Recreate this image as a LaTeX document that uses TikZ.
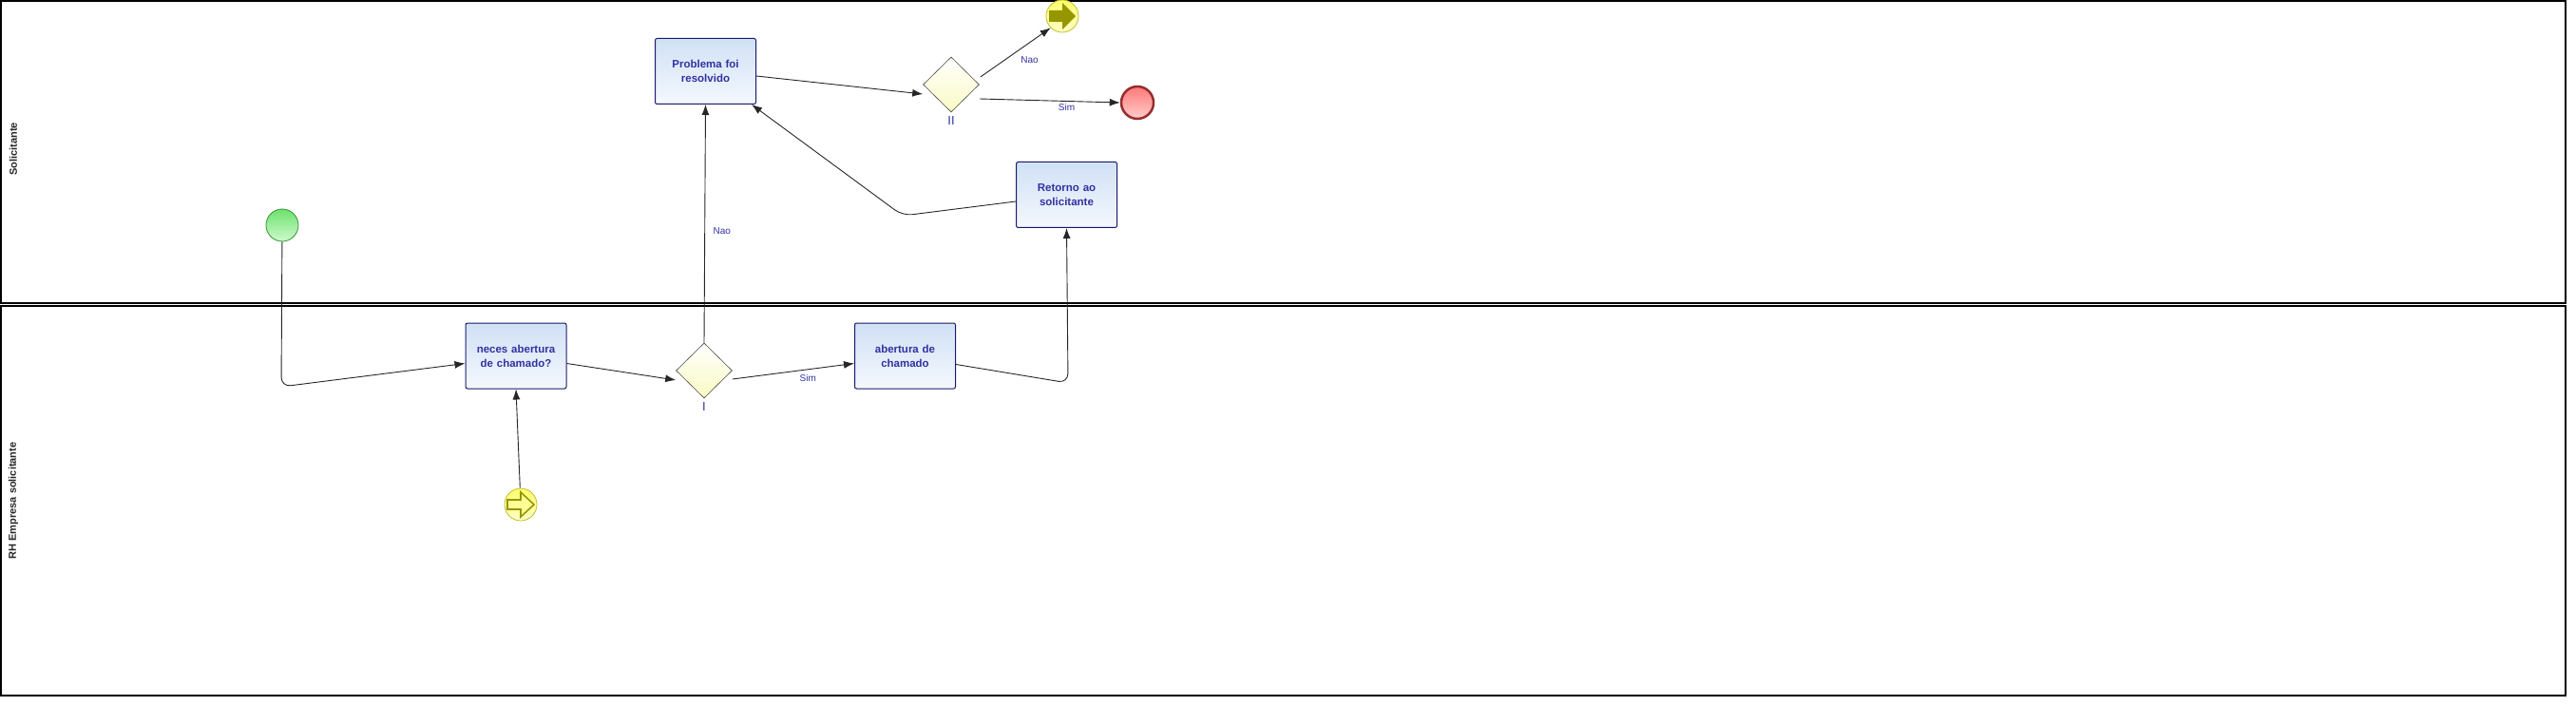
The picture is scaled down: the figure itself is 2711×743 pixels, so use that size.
\documentclass[tikz,border=0pt]{standalone}
\usepackage{fontspec}
\setmainfont{Liberation Sans}
\usetikzlibrary{shapes.geometric,arrows.meta}

\definecolor{taskline}{RGB}{25,25,110}
\definecolor{tasktext}{RGB}{50,50,160}
\definecolor{tasktop}{RGB}{208,225,245}
\definecolor{taskbot}{RGB}{245,248,254}
\definecolor{gwbot}{RGB}{250,250,195}
\definecolor{olive}{RGB}{150,150,0}
\definecolor{yelline}{RGB}{190,190,40}
\definecolor{greenline}{RGB}{50,150,50}
\definecolor{redline}{RGB}{150,45,45}

\begin{document}
\begin{tikzpicture}[x=1pt, y=-1pt,
	task/.style={draw=taskline, line width=1pt, rounded corners=2pt, top color=tasktop, bottom color=taskbot, minimum width=106pt, minimum height=69pt, text width=100pt, align=center, inner sep=0pt, text=tasktext, font=\fontsize{11.5}{15}\selectfont\bfseries},
	gateway/.style={diamond, draw=black!70, line width=0.6pt, top color=white, bottom color=gwbot, minimum width=59pt, minimum height=58pt, inner sep=0pt},
	event/.style={circle, minimum size=34pt, inner sep=0pt},
	startev/.style={event, draw=greenline, line width=0.8pt, top color={rgb,255:red,110;green,225;blue,110}, bottom color={rgb,255:red,205;green,250;blue,205}},
	endev/.style={event, draw=redline, line width=2.5pt, top color={rgb,255:red,255;green,120;blue,120}, bottom color={rgb,255:red,255;green,205;blue,205}},
	msgev/.style={event, draw=yelline, line width=0.8pt, top color={rgb,255:red,255;green,255;blue,110}, bottom color={rgb,255:red,255;green,255;blue,200}},
	flow/.style={-{Latex[length=11pt,width=8pt]}, line width=0.9pt, draw=black!85, rounded corners=10pt},
	lbl/.style={font=\fontsize{10}{12}\selectfont, text=tasktext, inner sep=1pt},
	gwlbl/.style={font=\fontsize{13}{14}\selectfont, text=tasktext, inner sep=0pt},
	lanelbl/.style={rotate=90, font=\fontsize{11}{13}\selectfont\bfseries, text=black!85}
]

	\useasboundingbox (0,0) rectangle (2711,743);

	\draw [line width=1.2pt] (1,1) rectangle (2700,319);
	\node [lanelbl] (lsol) at (14,157) {Solicitante};

	\draw [line width=1.2pt] (1,322) rectangle (2700,732);
	\node [lanelbl] (lrh) at (14,527) {RH Empresa solicitante};

	\node [task] (prob) at (742.5,75) {Problema foi\\resolvido};
	\node [task] (ret) at (1122.5,205) {Retorno ao\\solicitante};
	\node [task] (neces) at (543,374.5) {neces abertura\\de chamado?};
	\node [task] (abert) at (952.5,374.5) {abertura de\\chamado};

	\node [gateway] (gwa) at (741,390) {};
	\node [gwlbl] (gwatxt) at (741,428) {I};
	\node [gateway] (gwb) at (1001,89) {};
	\node [gwlbl] (gwbtxt) at (1001,127) {II};

	\node [startev] (ini) at (297,237) {};
	\node [msgev] (msg) at (548,531) {};
	\node [msgev] (fim) at (1118,17) {};
	\node [endev] (fin) at (1197,108) {};

	\draw [olive, line width=1.6pt, fill={rgb,255:red,255;green,255;blue,150}, line join=miter] (msg.center) ++(-14,-5) -- ++(14,0) -- ++(0,-8) -- ++(14,13) -- ++(-14,13) -- ++(0,-8) -- ++(-14,0) -- cycle;
	\fill [olive] (fim.center) ++(-14,-6) -- ++(14,0) -- ++(0,-8) -- ++(14,14) -- ++(-14,14) -- ++(0,-8) -- ++(-14,0) -- cycle;

	\coordinate (c1) at (296,407);
	\coordinate (c2) at (1124,403);
	\coordinate (c3) at (950,227);

	\draw [flow] (ini) -- (c1) -- ([yshift=-8pt]neces.west);
	\draw [flow] (msg) -- (neces.south);
	\draw [flow] ([yshift=-8pt]neces.east) -- ([yshift=-10pt]gwa.west);
	\draw [flow] ([yshift=-9pt]gwa.east) -- node [lbl, pos=.62, yshift=-9pt] {Sim} ([yshift=-8pt]abert.west);
	\draw [flow] ([yshift=-9pt]abert.east) -- (c2) -- (ret.south);
	\draw [flow] (gwa.north) -- node [lbl, pos=.47, xshift=18pt] {Nao} (prob.south);
	\draw [flow] ([yshift=-5pt]prob.east) -- ([yshift=-10pt]gwb.west);
	\draw [flow] ([shift={(1pt,8pt)}]gwb.east) -- node [lbl, pos=.7, yshift=-18pt] {Nao} (fim.south west);
	\draw [flow] ([yshift=-15pt]gwb.east) -- node [lbl, pos=.62, yshift=-6pt] {Sim} (fin.west);
	\draw [flow] ([yshift=-7pt]ret.west) -- (c3) -- ([xshift=-5pt]prob.south east);
\end{tikzpicture}
\end{document}
